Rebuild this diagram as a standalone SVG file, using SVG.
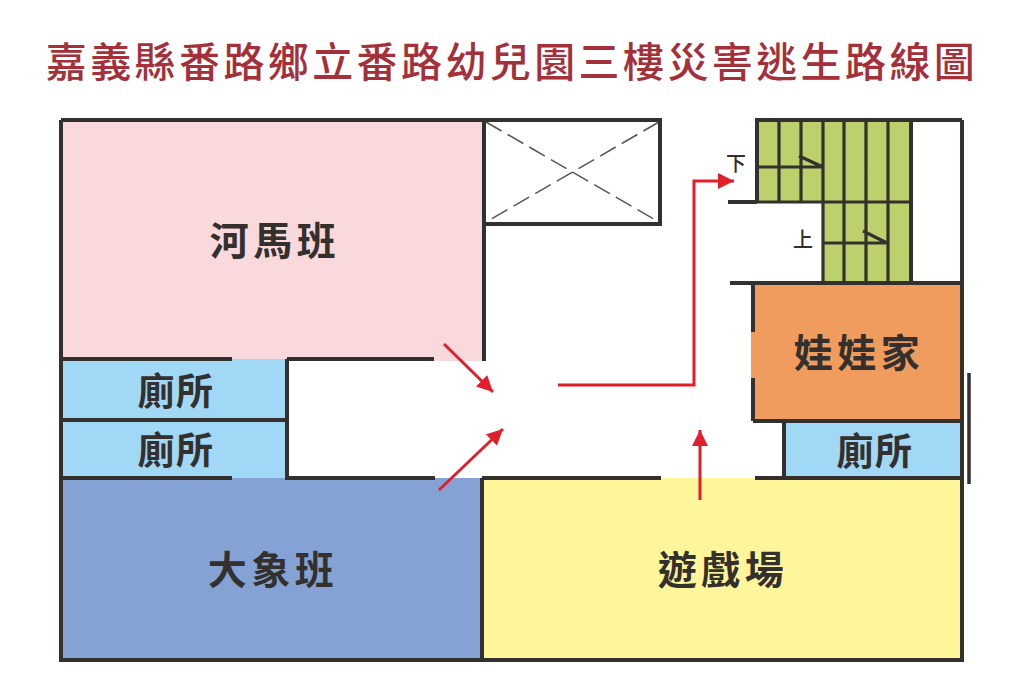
<svg xmlns="http://www.w3.org/2000/svg" width="1024" height="694" viewBox="0 0 1024 694">
<style>
.t{font-family:"Noto Sans CJK TC","Noto Sans CJK SC",sans-serif;fill:#33302e;font-weight:700;text-anchor:middle}
.lg{font-size:39px;letter-spacing:4.5px}
.sm{font-size:37px;letter-spacing:1.5px}
.st{font-size:20px;font-weight:500}
.w{stroke:#33302e;stroke-width:4;fill:none}
.s{stroke:#33302e;stroke-width:3.2;fill:none}
.r{stroke:#e01f2d;stroke-width:3;fill:none;marker-end:url(#h)}
</style>
<defs>
<marker id="h" markerUnits="userSpaceOnUse" markerWidth="20" markerHeight="20" refX="16" refY="8" orient="auto"><path d="M0 0L16 8L0 16Z" fill="#e01f2d"/></marker>
</defs>
<rect width="1024" height="694" fill="#fff"/>
<text id="title" x="512" y="77" font-family="'Noto Sans CJK TC','Noto Sans CJK SC',sans-serif" font-size="41" font-weight="500" fill="#a4303a" text-anchor="middle" letter-spacing="3.4">嘉義縣番路鄉立番路幼兒園三樓災害逃生路線圖</text>
<g id="room-hippo"><rect x="61" y="120" width="423" height="241" fill="#f9d9dc"/><text class="t lg" x="275" y="255">河馬班</text></g>
<g id="toilet-1"><rect x="61" y="359" width="226" height="61" fill="#a0d8f5"/><text class="t sm" x="176" y="405">廁所</text></g>
<g id="toilet-2"><rect x="61" y="420" width="226" height="59" fill="#a0d8f5"/><text class="t sm" x="176" y="464">廁所</text></g>
<g id="room-elephant"><rect x="61" y="478" width="421" height="182" fill="#84a2d3"/><text class="t lg" x="273" y="584">大象班</text></g>
<g id="playground"><rect x="482" y="478" width="480" height="182" fill="#fff69c"/><text class="t lg" x="723" y="584">遊戲場</text></g>
<g id="room-doll"><rect x="751" y="332" width="4" height="46" fill="#f19c5f"/><rect x="753" y="283" width="209" height="138" fill="#f19c5f"/><text class="t lg" x="859" y="367">娃娃家</text></g>
<g id="toilet-3"><rect x="784" y="421" width="178" height="57" fill="#a0d8f5"/><text class="t sm" x="875" y="465">廁所</text></g>
<g id="stairs">
<path d="M757 120H910V283H823V202H757Z" fill="#bcd06b"/>
<path class="s" d="M779 120V202M801 120V202M823 120V283M844 120V283M866 120V283M888 120V283M757 167H823L799 156M823 243H887L863 231M757 202H910"/>
<path class="w" d="M755 120H911V283M757 120V203M728 202H757"/>
<text class="t st" x="736" y="171">下</text>
<text class="t st" x="803" y="247">上</text>
</g>
<g id="shaft"><rect x="484" y="120" width="176" height="104" fill="#fff"/>
<path d="M486 122L659 222M659 122L486 222" stroke="#555" stroke-width="1.5" stroke-dasharray="18 7" fill="none"/>
<rect x="484" y="120" width="176" height="104" class="w"/></g>
<g id="walls">
<path class="w" d="M61 120H484V361M61 120V660H962V120M910 120H962"/>
<path class="w" d="M61 359H232M287 359H434M61 420H287M287 359V480M61 478H232M287 478H435M482 478V660M482 478H661M755 478H962M730 283H962M753 283V332M753 378V421M753 421H962M784 421V478"/>
<path d="M969 373V484" stroke="#33302e" stroke-width="3.5" fill="none"/>
</g>
<g id="connectors">
<path class="r" d="M444 344L493 392"/>
<path class="r" d="M439 490L503 429"/>
<path class="r" d="M700 500V430"/>
<path class="r" d="M558 385H694V181H734"/>
</g>
</svg>
